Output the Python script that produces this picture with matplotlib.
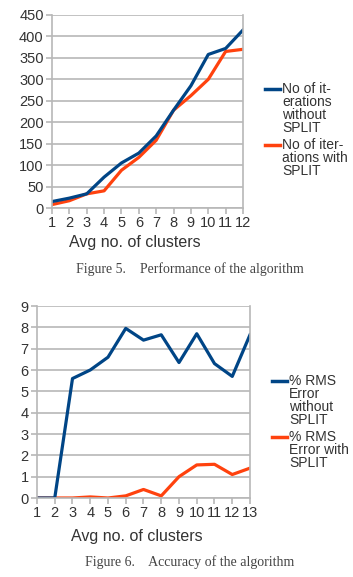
import numpy as np
import matplotlib
matplotlib.use("Agg")
import matplotlib.pyplot as plt
from matplotlib.lines import Line2D

# datos
clusters_5 = [1, 2, 3, 4, 5, 6, 7, 8, 9, 10, 11, 12]
iter_sin_split = [15, 23, 33, 72, 105, 128, 168, 228, 285, 358, 372, 415]
iter_con_split = [8, 17, 33, 40, 88, 118, 158, 228, 262, 300, 365, 370]

clusters_6 = [1, 2, 3, 4, 5, 6, 7, 8, 9, 10, 11, 12, 13]
rms_sin_split = [0, 0, 5.6, 6.0, 6.6, 7.95, 7.4, 7.65, 6.35, 7.7, 6.3, 5.7, 7.65]
rms_con_split = [0, 0, 0, 0.05, 0, 0.1, 0.4, 0.1, 1.0, 1.55, 1.58, 1.1, 1.4]

leyenda_5 = ["No of it-\nerations\nwithout\nSPLIT", "No of iter-\nations with\nSPLIT"]
leyenda_6 = ["% RMS\nError\nwithout\nSPLIT", "% RMS\nError with\nSPLIT"]

AZUL = "#004586"
NARANJA = "#ff420e"
GRIS = "#b8b8b8"
TEXTO = "#333333"

plt.rcParams["font.family"] = ["Liberation Sans", "DejaVu Sans"]

W, H = 353, 577
fig = plt.figure(figsize=(W / 100, H / 100), dpi=100)
fig.patch.set_facecolor("white")


def preparar_eje(ax, xs, ymax, ystep):
    ax.set_xlim(xs[0], xs[-1])
    ax.set_ylim(0, ymax)
    ax.set_xticks(xs)
    ax.set_yticks(np.arange(0, ymax + ystep / 2, ystep))
    ax.grid(axis="y", color=GRIS, linewidth=1.2)
    ax.set_axisbelow(True)
    for s in ax.spines.values():
        s.set_color(GRIS)
        s.set_linewidth(1.2)
    ax.spines["top"].set_visible(False)
    ax.tick_params(axis="both", colors=GRIS, labelcolor=TEXTO, labelsize=10.5,
                   length=4, width=1.2, pad=2)


def leyenda(y_lineas, x_linea, etiquetas, colores):
    for y, lab, col in zip(y_lineas, etiquetas, colores):
        fy = 1 - y / H
        fig.add_artist(Line2D([x_linea / W, (x_linea + 15) / W], [fy, fy],
                              color=col, linewidth=2.5))
        fig.text((x_linea + 17) / W, fy + 7 / H, lab, fontsize=10, color=TEXTO,
                 va="top", ha="left", linespacing=0.9)


# Figura 5
ax1 = fig.add_axes([52 / W, 1 - 208 / H, (243 - 52) / W, (208 - 15) / H])
preparar_eje(ax1, clusters_5, 450, 50)
ax1.plot(clusters_5, iter_con_split, color=NARANJA, linewidth=2.3)
ax1.plot(clusters_5, iter_sin_split, color=AZUL, linewidth=2.3)
leyenda([89, 145], 265, leyenda_5, [AZUL, NARANJA])
fig.text(135 / W, 1 - 242 / H, "Avg no. of clusters", fontsize=11.5, color=TEXTO,
         ha="center", va="center")
fig.text(190 / W, 1 - 269 / H, "Figure 5.    Performance of the algorithm",
         fontsize=10, family="Liberation Serif", color="#444444",
         ha="center", va="center")

# Figura 6
ax2 = fig.add_axes([37 / W, 1 - 498 / H, (250 - 37) / W, (498 - 306) / H])
preparar_eje(ax2, clusters_6, 9, 1)
ax2.plot(clusters_6, rms_con_split, color=NARANJA, linewidth=2.3)
ax2.plot(clusters_6, rms_sin_split, color=AZUL, linewidth=2.3)
leyenda([381, 437], 272, leyenda_6, [AZUL, NARANJA])
fig.text(137 / W, 1 - 537 / H, "Avg no. of clusters", fontsize=11.5, color=TEXTO,
         ha="center", va="center")
fig.text(190 / W, 1 - 562 / H, "Figure 6.    Accuracy of the algorithm",
         fontsize=10, family="Liberation Serif", color="#444444",
         ha="center", va="center")

fig.savefig("out.png", dpi=100)
